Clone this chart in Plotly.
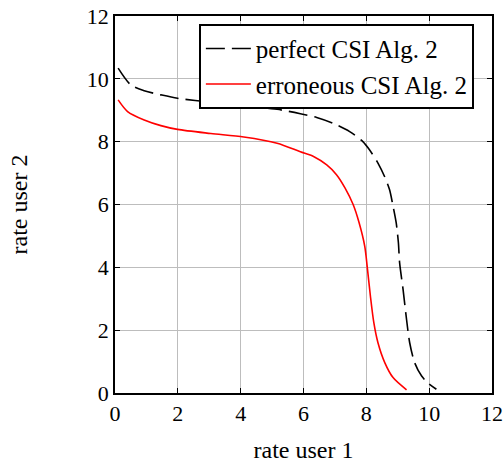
import plotly.graph_objects as go

# perfect CSI Alg. 2 (black dashed)
perfect_x = [0.1, 0.5, 0.93, 1.46, 1.99, 3.05, 4.1, 5.16, 5.9, 6.42, 6.95, 7.47, 7.89, 8.1, 8.37, 8.58, 8.74, 8.84, 8.95, 9.02, 9.06, 9.17, 9.28, 9.38, 9.54, 9.76, 9.97, 10.23]
perfect_y = [10.34, 9.81, 9.62, 9.49, 9.38, 9.26, 9.15, 9.03, 8.89, 8.77, 8.58, 8.32, 8.0, 7.74, 7.32, 6.89, 6.47, 6.0, 5.42, 4.79, 4.14, 3.29, 2.34, 1.6, 0.96, 0.54, 0.31, 0.12]

# erroneous CSI Alg. 2 (red solid)
err_x = [0.1, 0.4, 0.93, 1.46, 1.99, 3.05, 4.1, 5.16, 5.9, 6.32, 6.74, 7.05, 7.32, 7.58, 7.77, 7.95, 8.03, 8.13, 8.24, 8.37, 8.59, 8.85, 9.28]
err_y = [9.33, 8.96, 8.69, 8.51, 8.39, 8.26, 8.15, 7.95, 7.68, 7.53, 7.26, 6.95, 6.53, 6.0, 5.42, 4.67, 4.0, 3.08, 2.23, 1.6, 0.96, 0.49, 0.1]

tick_vals = [0, 2, 4, 6, 8, 10, 12]
tick_text = ["0", "2", "4", "6", "8", "10", "12"]

FONT = "Liberation Serif"

fig = go.Figure()
fig.add_trace(go.Scatter(x=perfect_x, y=perfect_y, mode="lines", name="perfect CSI Alg. 2",
                         line=dict(color="black", width=1.6, dash="19px,7px", shape="spline", smoothing=0.8)))
fig.add_trace(go.Scatter(x=err_x, y=err_y, mode="lines", name="erroneous CSI Alg. 2",
                         line=dict(color="red", width=1.6, shape="spline", smoothing=0.8)))

axis_common = dict(range=[0, 12], tickvals=tick_vals, ticktext=tick_text, automargin=False,
                   showgrid=True, gridcolor="#bdbdbd", gridwidth=1,
                   showline=True, linecolor="black", linewidth=1.8, mirror="ticks",
                   ticks="inside", ticklen=5, tickcolor="black", tickwidth=1,
                   ticklabeloverflow="allow",
                   zeroline=False, tickfont=dict(family=FONT, size=22, color="black"))

fig.update_layout(
    width=503, height=463,
    margin=dict(l=115, r=11, t=16, b=70),
    paper_bgcolor="white", plot_bgcolor="white",
    font=dict(family=FONT, size=22, color="black"),
    xaxis=dict(**axis_common, title=dict(text="rate user 1", standoff=16, font=dict(family=FONT, size=24))),
    yaxis=dict(**axis_common, title=dict(text="rate user 2", standoff=52, font=dict(family=FONT, size=24))),
    legend=dict(x=0.223, y=0.979, xanchor="left", yanchor="top", bordercolor="black", borderwidth=1.8,
                bgcolor="white", font=dict(family=FONT, size=25), tracegroupgap=0, itemwidth=45),
    showlegend=True,
)

# remove the page's default body margin so the figure fills the window exactly
fig.write_html("out.html", post_script="document.body.style.margin='0';",
               config={"displayModeBar": False})
